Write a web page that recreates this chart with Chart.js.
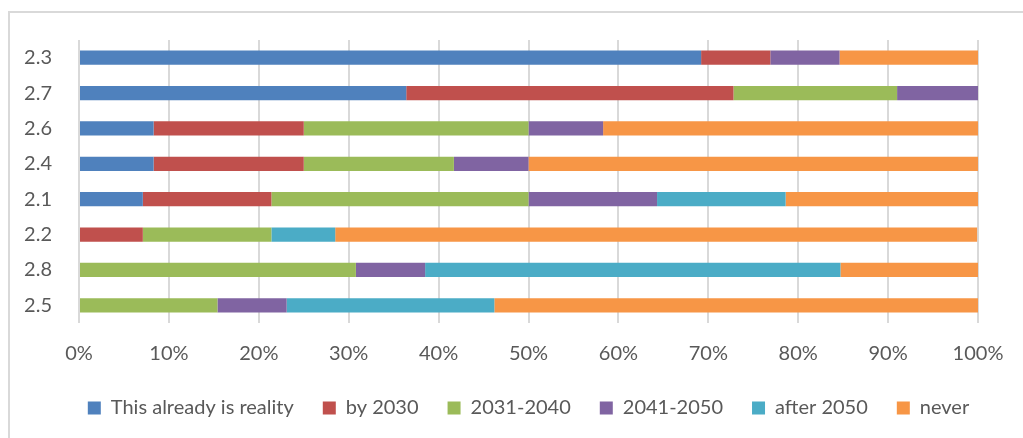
<!DOCTYPE html>
<html>
<head>
<meta charset="utf-8">
<title>Expected timing</title>
<script src="https://cdn.jsdelivr.net/npm/chart.js@4/dist/chart.umd.min.js"></script>
<style>
  html, body { margin: 0; padding: 0; background: #fff; overflow: hidden; }
  #frame { position: absolute; left: 8px; top: 11px; width: 1100px; height: 500px;
           border-left: 2px solid #d9d9d9; border-top: 2px solid #d9d9d9; }
  #chart { position: absolute; left: 0; top: 0; }
</style>
</head>
<body>
<div id="frame"></div>
<canvas id="chart" width="1023" height="438"></canvas>
<script>
"use strict"

// statements, top to bottom
var categories = ["2.3", "2.7", "2.6", "2.4", "2.1", "2.2", "2.8", "2.5"];

// share of answers per statement (%)
var alreadyReality = [69.2, 36.4, 8.3, 8.3, 7.1, 0, 0, 0];
var by2030 = [7.7, 36.4, 16.7, 16.7, 14.3, 7.1, 0, 0];
var y2031to2040 = [0, 18.2, 25.0, 16.7, 28.6, 14.3, 30.8, 15.4];
var y2041to2050 = [7.7, 9.1, 8.3, 8.3, 14.3, 0, 7.7, 7.7];
var after2050 = [0, 0, 0, 0, 14.3, 7.1, 46.2, 23.1];
var never = [15.4, 0, 41.7, 50.0, 21.4, 71.4, 15.4, 53.8];

var xTicks = [0, 10, 20, 30, 40, 50, 60, 70, 80, 90, 100];

var txt = "#595959";
var fam = "Lato, 'Open Sans', sans-serif";

function ds(label, data, color) {
  return { label: label, data: data, backgroundColor: color, borderWidth: 0,
           barPercentage: 0.4, categoryPercentage: 1 };
}

// center the legend under the plot area instead of the whole canvas
var centerLegend = {
  id: 'centerLegend',
  afterLayout: function(chart) {
    var lg = chart.legend, ca = chart.chartArea;
    var w = lg.right - lg.left;
    var c = (ca.left + ca.right) / 2;
    lg.left = c - w / 2;
    lg.right = c + w / 2;
  }
};

var ctx = document.getElementById("chart").getContext('2d');
var myChart = new Chart(ctx, {
  type: 'bar',
  data: {
    labels: categories,
    datasets: [
      ds("This already is reality", alreadyReality, "#4F81BD"),
      ds("by 2030", by2030, "#C0504D"),
      ds("2031-2040", y2031to2040, "#9BBB59"),
      ds("2041-2050", y2041to2050, "#8064A2"),
      ds("after 2050", after2050, "#4BACC6"),
      ds("never", never, "#F79646")
    ]
  },
  plugins: [centerLegend],
  options: {
    indexAxis: 'y',
    responsive: false,
    animation: false,
    layout: { padding: { left: 8, right: 45, top: 40, bottom: 10 } },
    scales: {
      x: {
        stacked: true,
        min: 0,
        max: 100,
        afterBuildTicks: function(scale) {
          scale.ticks = xTicks.map(function(v) { return { value: v }; });
        },
        afterFit: function(scale) { scale.height = 46; },
        grid: { color: "#d9d9d9", lineWidth: 2, drawTicks: false },
        border: { display: false },
        ticks: {
          color: txt, padding: 19,
          font: { family: fam, size: 20 },
          callback: function(v) { return v + "%"; }
        }
      },
      y: {
        stacked: true,
        afterFit: function(scale) { scale.width = 71; },
        grid: { display: false },
        border: { display: false },
        ticks: { color: txt, padding: 19, font: { family: fam, size: 20 } }
      }
    },
    plugins: {
      legend: {
        position: 'bottom',
        labels: {
          color: txt,
          boxWidth: 13,
          boxHeight: 13,
          padding: 29,
          font: { family: fam, size: 20 }
        }
      },
      tooltip: { enabled: false }
    }
  }
});
</script>
</body>
</html>
